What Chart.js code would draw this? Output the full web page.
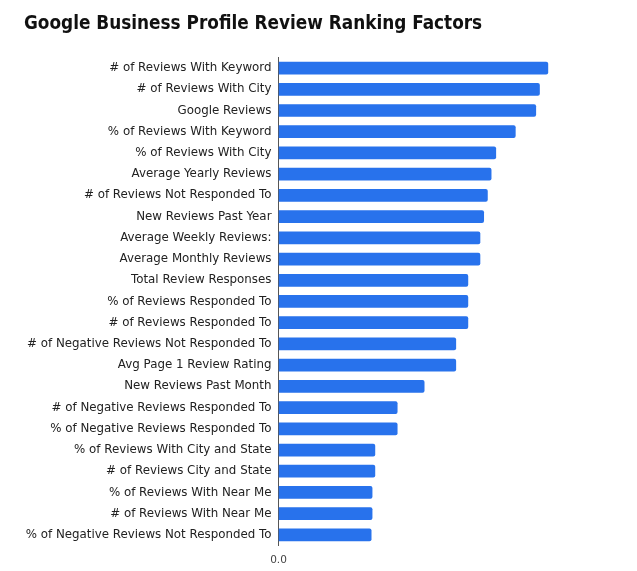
<!DOCTYPE html>
<html>
<head>
<meta charset="utf-8">
<script src="https://cdn.jsdelivr.net/npm/chart.js@4.4.1/dist/chart.umd.min.js"></script>
<style>
  body { margin: 0; background: #fff; }
  canvas { display: block; }
</style>
</head>
<body>
<canvas id="rankChart" width="637" height="571"></canvas>
<script>
// review ranking factors
const factors = [
  '# of Reviews With Keyword',
  '# of Reviews With City',
  'Google Reviews',
  '% of Reviews With Keyword',
  '% of Reviews With City',
  'Average Yearly Reviews',
  '# of Reviews Not Responded To',
  'New Reviews Past Year',
  'Average Weekly Reviews:',
  'Average Monthly Reviews',
  'Total Review Responses',
  '% of Reviews Responded To',
  '# of Reviews Responded To',
  '# of Negative Reviews Not Responded To',
  'Avg Page 1 Review Rating',
  'New Reviews Past Month',
  '# of Negative Reviews Responded To',
  '% of Negative Reviews Responded To',
  '% of Reviews With City and State',
  '# of Reviews City and State',
  '% of Reviews With Near Me',
  '# of Reviews With Near Me',
  '% of Negative Reviews Not Responded To'
];

const correlation = [
  0.290, 0.281, 0.277, 0.255, 0.234, 0.229, 0.225, 0.221,
  0.217, 0.217, 0.204, 0.204, 0.204, 0.191, 0.191, 0.157,
  0.128, 0.128, 0.104, 0.104, 0.101, 0.101, 0.100
];

const xTicks = [0];

const titleFont = "'DejaVu Sans Condensed', 'DejaVu Sans', sans-serif";
const labelFont = "'DejaVu Sans', sans-serif";

new Chart(document.getElementById('rankChart').getContext('2d'), {
  type: 'bar',
  data: {
    labels: factors,
    datasets: [{
      data: correlation,
      backgroundColor: '#2872ec',
      borderRadius: 2,
      barPercentage: 0.6,
      categoryPercentage: 1
    }]
  },
  options: {
    indexAxis: 'y',
    responsive: false,
    animation: false,
    layout: { padding: { left: 24, right: 33, top: 0, bottom: 0 } },
    plugins: {
      legend: { display: false },
      tooltip: { enabled: false },
      title: {
        display: true,
        text: 'Google Business Profile Review Ranking Factors',
        align: 'start',
        color: '#111',
        font: { family: titleFont, size: 18.8, weight: 'bold' },
        padding: { top: 12.5, bottom: 22.4 }
      }
    },
    scales: {
      x: {
        min: 0,
        max: 0.35,
        grid: { display: false, drawTicks: false },
        border: { display: false },
        afterBuildTicks: axis => { axis.ticks = xTicks.map(v => ({ value: v })); },
        afterFit: axis => { axis.height = 25.5; },
        ticks: {
          color: '#444',
          padding: 8,
          font: { family: labelFont, size: 10.5 },
          callback: v => Number(v).toFixed(1)
        }
      },
      y: {
        grid: { display: false, drawTicks: false },
        border: { display: true, color: '#555', width: 1 },
        afterFit: axis => { axis.width = 254.5; },
        ticks: {
          color: '#222',
          padding: 7,
          autoSkip: false,
          font: { family: labelFont, size: 11.85 }
        }
      }
    }
  }
});
</script>
</body>
</html>
